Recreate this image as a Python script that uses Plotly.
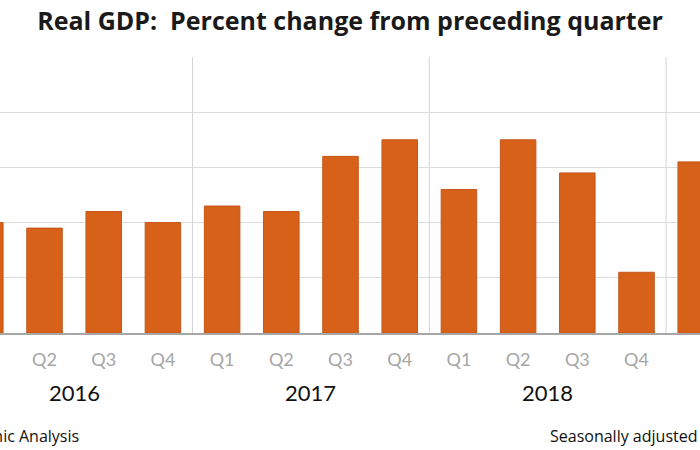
import plotly.graph_objects as go

quarters = ["Q1", "Q2", "Q3", "Q4", "Q1", "Q2", "Q3", "Q4", "Q1", "Q2", "Q3", "Q4", "Q1"]
years = ["2016", "2016", "2016", "2016", "2017", "2017", "2017", "2017",
         "2018", "2018", "2018", "2018", "2019"]
gdp_change = [2.0, 1.9, 2.2, 2.0, 2.3, 2.2, 3.2, 3.5, 2.6, 3.5, 2.9, 1.1, 3.1]
year_labels = ["2016", "2017", "2018"]

BAR = "#D8611A"
W, H = 700, 450
T, B = 57, 117
PLOT_H = H - T - B

xs = list(range(len(gdp_change)))

fig = go.Figure()
fig.add_trace(go.Bar(
    x=xs, y=gdp_change, width=0.6,
    marker=dict(color=BAR, line=dict(color="#C4561A", width=1)),
    hoverinfo="y",
))

annotations = []
shapes = []
for yl in year_labels:
    idx = [i for i, y in enumerate(years) if y == yl]
    center = sum(idx) / len(idx)
    annotations.append(dict(
        x=center, y=-(392 - 333) / PLOT_H, xref="x", yref="paper",
        text=yl, showarrow=False, xanchor="center", yanchor="middle",
        font=dict(family="Lato", size=22, color="#111111"),
    ))
for i in range(1, len(years)):
    if years[i] != years[i - 1]:
        shapes.append(dict(
            type="line", xref="x", yref="paper",
            x0=i - 0.5, x1=i - 0.5, y0=0, y1=1,
            line=dict(color="#D4D4D4", width=1), layer="below",
        ))

annotations.append(dict(
    x=81 / W, y=-(436 - 333) / PLOT_H, xref="paper", yref="paper",
    text="U.S. Bureau of Economic Analysis", showarrow=False,
    xanchor="right", yanchor="middle",
    font=dict(family="Open Sans", size=16, color="#111111"),
))
annotations.append(dict(
    x=548 / W, y=-(436 - 333) / PLOT_H, xref="paper", yref="paper",
    text="Seasonally adjusted", showarrow=False,
    xanchor="left", yanchor="middle",
    font=dict(family="Open Sans", size=16, color="#111111"),
))

fig.update_layout(
    width=W, height=H,
    margin=dict(l=0, r=0, t=T, b=B),
    paper_bgcolor="white", plot_bgcolor="white",
    title=dict(
        text="<b>Real GDP:  Percent change from preceding quarter</b>",
        x=0.5, xanchor="center", y=1 - 21 / H, yanchor="middle", yref="container",
        font=dict(family="Open Sans", size=25, color="#1a1a1a"),
    ),
    showlegend=False,
    annotations=annotations,
    shapes=shapes,
    bargap=0.4,
)
fig.update_xaxes(
    range=[0.248, 0.248 + W / 59.2],
    tickmode="array", tickvals=xs, ticktext=quarters,
    tickfont=dict(family="Lato", size=18, color="#A6A6A6"),
    showline=True, linecolor="#A6A6A6", linewidth=1.5,
    showgrid=False, zeroline=False, ticks="", ticklabelstandoff=10,
)
fig.update_yaxes(
    range=[0, 5], dtick=1, showticklabels=False,
    showgrid=True, gridcolor="#DCDCDC", gridwidth=1,
    zeroline=False, showline=False, ticks="",
)

fig.write_html(
    "out.html",
    config={"displayModeBar": False},
    post_script="document.body.style.margin='0';document.body.style.overflow='hidden';",
)
